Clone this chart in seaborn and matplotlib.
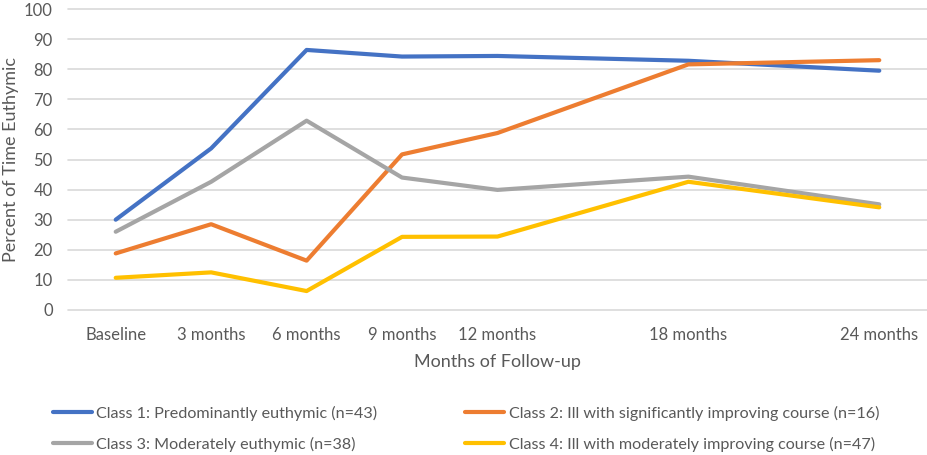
import matplotlib
matplotlib.use("Agg")
import matplotlib.pyplot as plt
import seaborn as sns
import pandas as pd

months = [0, 3, 6, 9, 12, 18, 24]
tick_labels = ["Baseline", "3 months", "6 months", "9 months", "12 months", "18 months", "24 months"]
class1 = [30.0, 53.7, 86.4, 84.2, 84.4, 82.8, 79.5]
class2 = [18.8, 28.5, 16.4, 51.7, 58.8, 81.6, 83.0]
class3 = [26.0, 42.6, 62.9, 44.0, 39.9, 44.3, 35.1]
class4 = [10.7, 12.5, 6.3, 24.3, 24.4, 42.6, 34.1]
names = [
    "Class 1: Predominantly euthymic (n=43)",
    "Class 2: Ill with significantly improving course (n=16)",
    "Class 3: Moderately euthymic (n=38)",
    "Class 4: Ill with moderately improving course (n=47)",
]
colors = ["#4472C4", "#ED7D31", "#A5A5A5", "#FFC000"]

rows = []
for name, vals in zip(names, [class1, class2, class3, class4]):
    for m, v in zip(months, vals):
        rows.append({"month": m, "value": v, "cls": name})
df = pd.DataFrame(rows)

sns.set_theme(style="white")
plt.rcParams["font.family"] = ["Lato", "DejaVu Sans"]
text_color = "#595959"

fig = plt.figure(figsize=(9.27, 4.55), dpi=100)
ax = fig.add_axes([68 / 927, 1 - 310 / 455, 1 - 68 / 927, 301 / 455])
sns.lineplot(data=df, x="month", y="value", hue="cls", hue_order=names,
             palette=colors, linewidth=3.0, legend=False, ax=ax,
             solid_capstyle="round")
ax.set_xlim(-1.5, 25.5)
ax.set_ylim(0, 100)
ax.set_yticks(range(0, 101, 10))
ax.set_xticks(months)
ax.set_xticklabels(tick_labels)
ax.tick_params(axis="both", length=0, labelsize=12, colors=text_color)
ax.tick_params(axis="x", pad=12)
ax.tick_params(axis="y", pad=11)
for s in ax.spines.values():
    s.set_visible(False)
ax.grid(axis="y", color="#D9D9D9", linewidth=1.2)
ax.grid(axis="x", visible=False)
ax.set_axisbelow(True)
for gl in ax.get_ygridlines():
    gl.set_clip_on(False)
ax.set_xlabel("Months of Follow-up", fontsize=13, color=text_color, labelpad=8)
ax.set_ylabel("Percent of Time Euthymic", fontsize=13, color=text_color)
ax.yaxis.set_label_coords(-49 / 859, 0.5)

lines = ax.get_lines()[:4]
kw = dict(loc="center left", frameon=False, fontsize=11.6, handlelength=2.45,
          handletextpad=0.25, borderpad=0, borderaxespad=0, labelspacing=1.0,
          labelcolor=text_color)
leg1 = fig.legend([lines[0], lines[2]], [names[0], names[2]],
                  bbox_to_anchor=(53 / 927, 1 - 429 / 455), **kw)
leg2 = fig.legend([lines[1], lines[3]], [names[1], names[3]],
                  bbox_to_anchor=(465 / 927, 1 - 429 / 455), **kw)

fig.savefig("out.png", dpi=100)
